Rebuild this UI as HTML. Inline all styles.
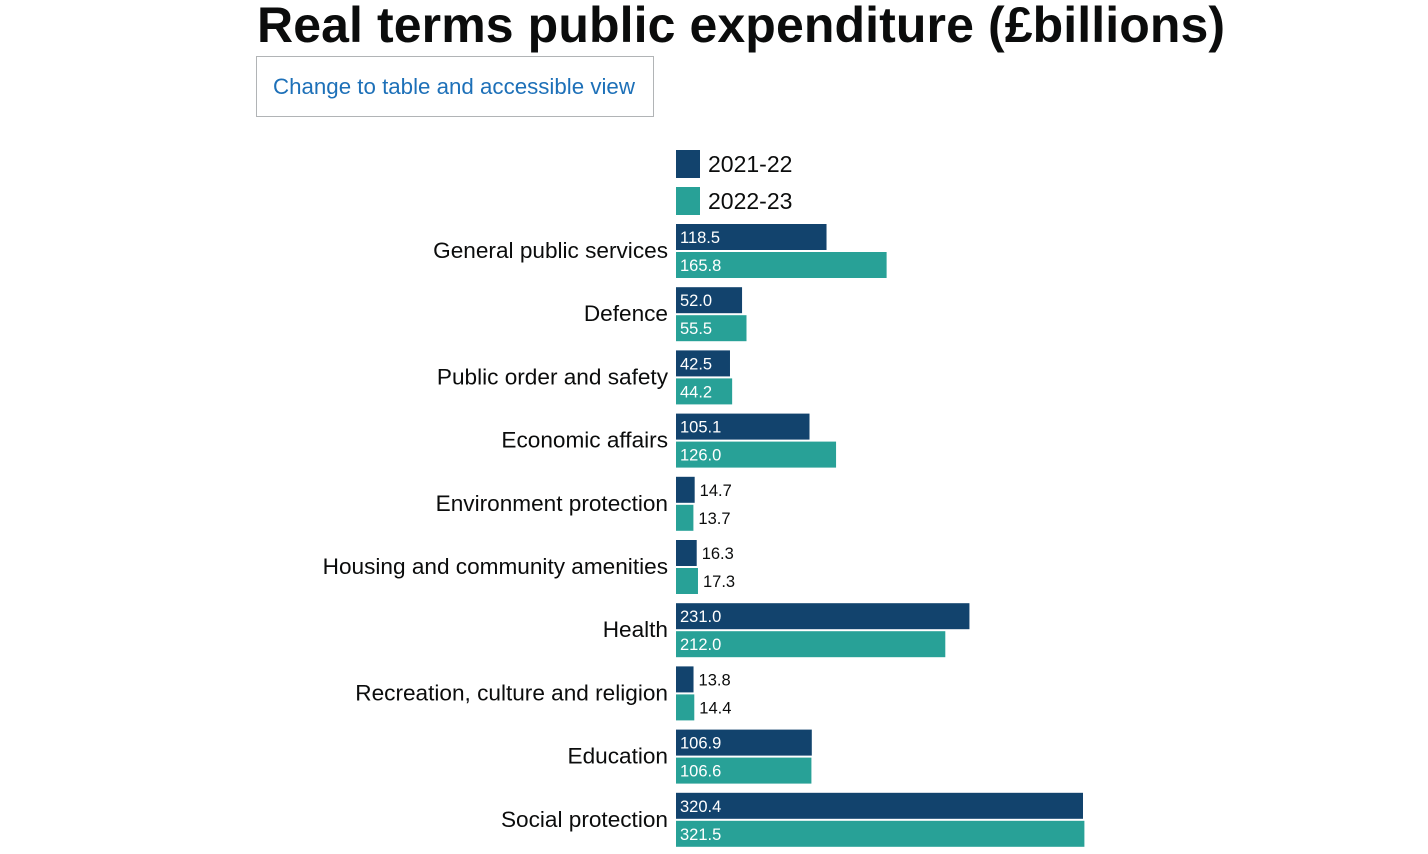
<!DOCTYPE html>
<html><head><meta charset="utf-8"><style>
body{margin:0;width:1428px;height:854px;overflow:hidden;background:#fff;font-family:"Liberation Sans",Arial,sans-serif;}
h1{position:absolute;left:257px;top:-4px;margin:0;font-size:50px;font-weight:bold;color:#0b0c0c;letter-spacing:0.1px;white-space:nowrap}
.btn{position:absolute;left:256px;top:56px;width:396px;height:59px;border:1px solid #b1b4b6;box-sizing:content-box;color:#1d70b8;font-size:22.3px;line-height:59px;text-indent:16px;white-space:nowrap}
svg{position:absolute;left:0;top:0}
</style></head><body>
<h1>Real terms public expenditure (£billions)</h1>
<div class="btn">Change to table and accessible view</div>
<svg id="c" width="1428" height="854"></svg>
<script>
const categories=["General public services","Defence","Public order and safety","Economic affairs","Environment protection","Housing and community amenities","Health","Recreation, culture and religion","Education","Social protection"];
const series2122=[118.5,52.0,42.5,105.1,14.7,16.3,231.0,13.8,106.9,320.4];
const series2223=[165.8,55.5,44.2,126.0,13.7,17.3,212.0,14.4,106.6,321.5];
const seriesNames=["2021-22","2022-23"];
const colors=["#12436d","#28a197"];
const NS="http://www.w3.org/2000/svg";
const svg=document.getElementById('c');
const x0=676, scale=407/320.4, top0=224, pitch=63.2, bh=26, gap=2;
function xw(v){return v*scale;}
function mk(t,a){const e=document.createElementNS(NS,t);for(const k in a)e.setAttribute(k,a[k]);svg.appendChild(e);return e;}
seriesNames.forEach((n,i)=>{
 const r=mk('rect',{x:676,y:150+i*37,width:24,height:28,fill:colors[i]});
 
 
 const t=mk('text',{x:708,y:172+i*37,'font-size':23,fill:'#0b0c0c'});t.textContent=n;
 
 
});
categories.forEach((c,i)=>{
 const y=top0+i*pitch;
 const l=mk('text',{x:668,y:y+bh+8,'font-size':22.6,'text-anchor':'end',fill:'#0b0c0c'});l.textContent=c;
 
 
 [series2122,series2223].forEach((s,j)=>{
  const by=y+j*(bh+gap), w=xw(s[i]);
  const b=mk('rect',{x:x0,y:by,width:w,height:bh,fill:colors[j]});
  
  
  const inside=w>40;
  const t=mk('text',{x:inside?x0+4:x0+w+5,y:by+19,'font-size':16.5,fill:inside?'#fff':'#0b0c0c'});
  t.textContent=s[i].toFixed(1);
  
  
 });
});
</script>
</body></html>
